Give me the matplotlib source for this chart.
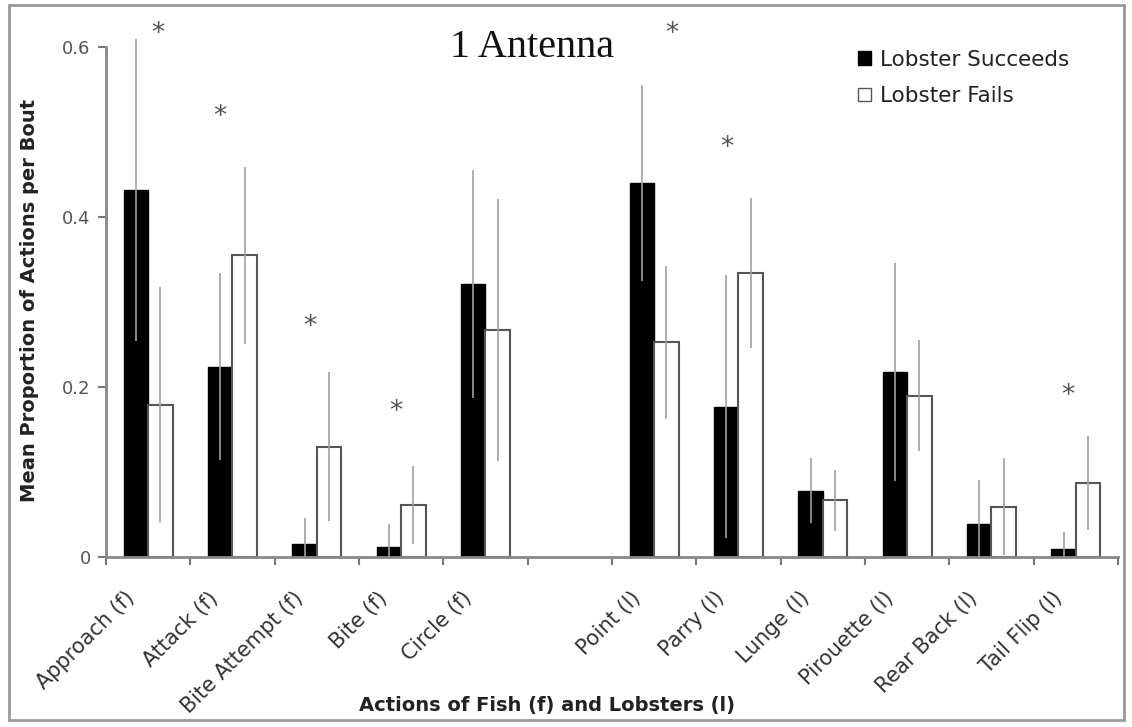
import numpy as np
import matplotlib
matplotlib.use('Agg')
import matplotlib.pyplot as plt
from matplotlib.patches import Patch, Rectangle

nan = np.nan

categories = ['Approach (f)', 'Attack (f)', 'Bite Attempt (f)', 'Bite (f)', 'Circle (f)', '',
              'Point (l)', 'Parry (l)', 'Lunge (l)', 'Pirouette (l)', 'Rear Back (l)', 'Tail Flip (l)']
succeeds = [0.432, 0.224, 0.015, 0.012, 0.321, nan, 0.440, 0.177, 0.078, 0.218, 0.039, 0.010]
succeeds_err = [0.178, 0.110, 0.031, 0.027, 0.134, nan, 0.115, 0.155, 0.038, 0.128, 0.052, 0.020]
fails = [0.179, 0.355, 0.130, 0.061, 0.267, nan, 0.253, 0.334, 0.067, 0.190, 0.059, 0.087]
fails_err = [0.139, 0.104, 0.088, 0.046, 0.154, nan, 0.090, 0.088, 0.036, 0.065, 0.057, 0.055]

# significance stars: category, offset inside slot, height
star_cats = ['Approach (f)', 'Attack (f)', 'Bite Attempt (f)', 'Bite (f)', 'Point (l)', 'Parry (l)', 'Tail Flip (l)']
star_dx = [0.12, -0.15, -0.08, -0.06, 0.21, -0.14, -0.09]
star_y = [0.616, 0.518, 0.271, 0.171, 0.616, 0.481, 0.19]

fig = plt.figure(figsize=(11.32, 7.27), dpi=100)
ax = fig.add_axes([0.0936, 0.2338, 0.894, 0.7387])

x = np.arange(len(categories)) + 0.5
w = 0.29
err_kw = dict(ecolor='#a0a0a0', elinewidth=1.2, capsize=0, zorder=3)
ax.bar(x - w / 2, succeeds, w, color='black', edgecolor='black', linewidth=1,
       yerr=succeeds_err, error_kw=err_kw, label='Lobster Succeeds', zorder=2)
ax.bar(x + w / 2, fails, w, color='white', edgecolor='#555555', linewidth=1.5,
       yerr=fails_err, error_kw=err_kw, label='Lobster Fails', zorder=2)

for c, dx, y in zip(star_cats, star_dx, star_y):
    i = categories.index(c)
    ax.text(x[i] + dx, y, '*', ha='center', va='center', fontsize=19, color='#555555')

ax.set_xlim(0, len(categories))
ax.set_ylim(0, 0.632)
ax.set_yticks([0, 0.2, 0.4, 0.6])
ax.set_yticklabels(['0', '0.2', '0.4', '0.6'])
ax.set_xticks(np.arange(len(categories) + 1))
ax.set_xticklabels([])
ax.tick_params(axis='both', direction='out', length=6, width=1.5, color='#777777',
               labelsize=13, labelcolor='#555555', pad=5)
for s in ['top', 'right']:
    ax.spines[s].set_visible(False)
for s in ['left', 'bottom']:
    ax.spines[s].set_color('#888888')
    ax.spines[s].set_linewidth(2)
ax.spines['left'].set_bounds(0, 0.6)

for xi, lab in zip(x, categories):
    if lab:
        ax.annotate(lab, xy=(xi, 0), xycoords=('data', 'axes fraction'),
                    xytext=(-17, -38), textcoords='offset pixels',
                    ha='right', va='center', rotation=45, rotation_mode='anchor',
                    fontsize=15, color='#333333')

fig.text(0.026, 0.587, 'Mean Proportion of Actions per Bout', rotation=90,
         ha='center', va='center', fontsize=14, fontweight='bold', color='#222222')
fig.text(0.483, 0.03, 'Actions of Fish (f) and Lobsters (l)',
         ha='center', va='center', fontsize=14, fontweight='bold', color='#222222')
fig.text(0.47, 0.935, '1 Antenna', ha='center', va='center',
         fontsize=29, family='Liberation Serif', color='#111111')

handles = [Patch(facecolor='black', edgecolor='black'),
           Patch(facecolor='white', edgecolor='#555555')]
fig.legend(handles, ['Lobster Succeeds', 'Lobster Fails'], loc='upper left',
           bbox_to_anchor=(0.741, 0.958), frameon=False, fontsize=15.5,
           handlelength=0.6, handleheight=0.6, handletextpad=0.4, labelspacing=0.75,
           labelcolor='#222222')

fig.patches.append(Rectangle((0.008, 0.009), 0.985, 0.984, transform=fig.transFigure,
                             fill=False, edgecolor='#999999', linewidth=2))

fig.savefig('out.png', dpi=100)
